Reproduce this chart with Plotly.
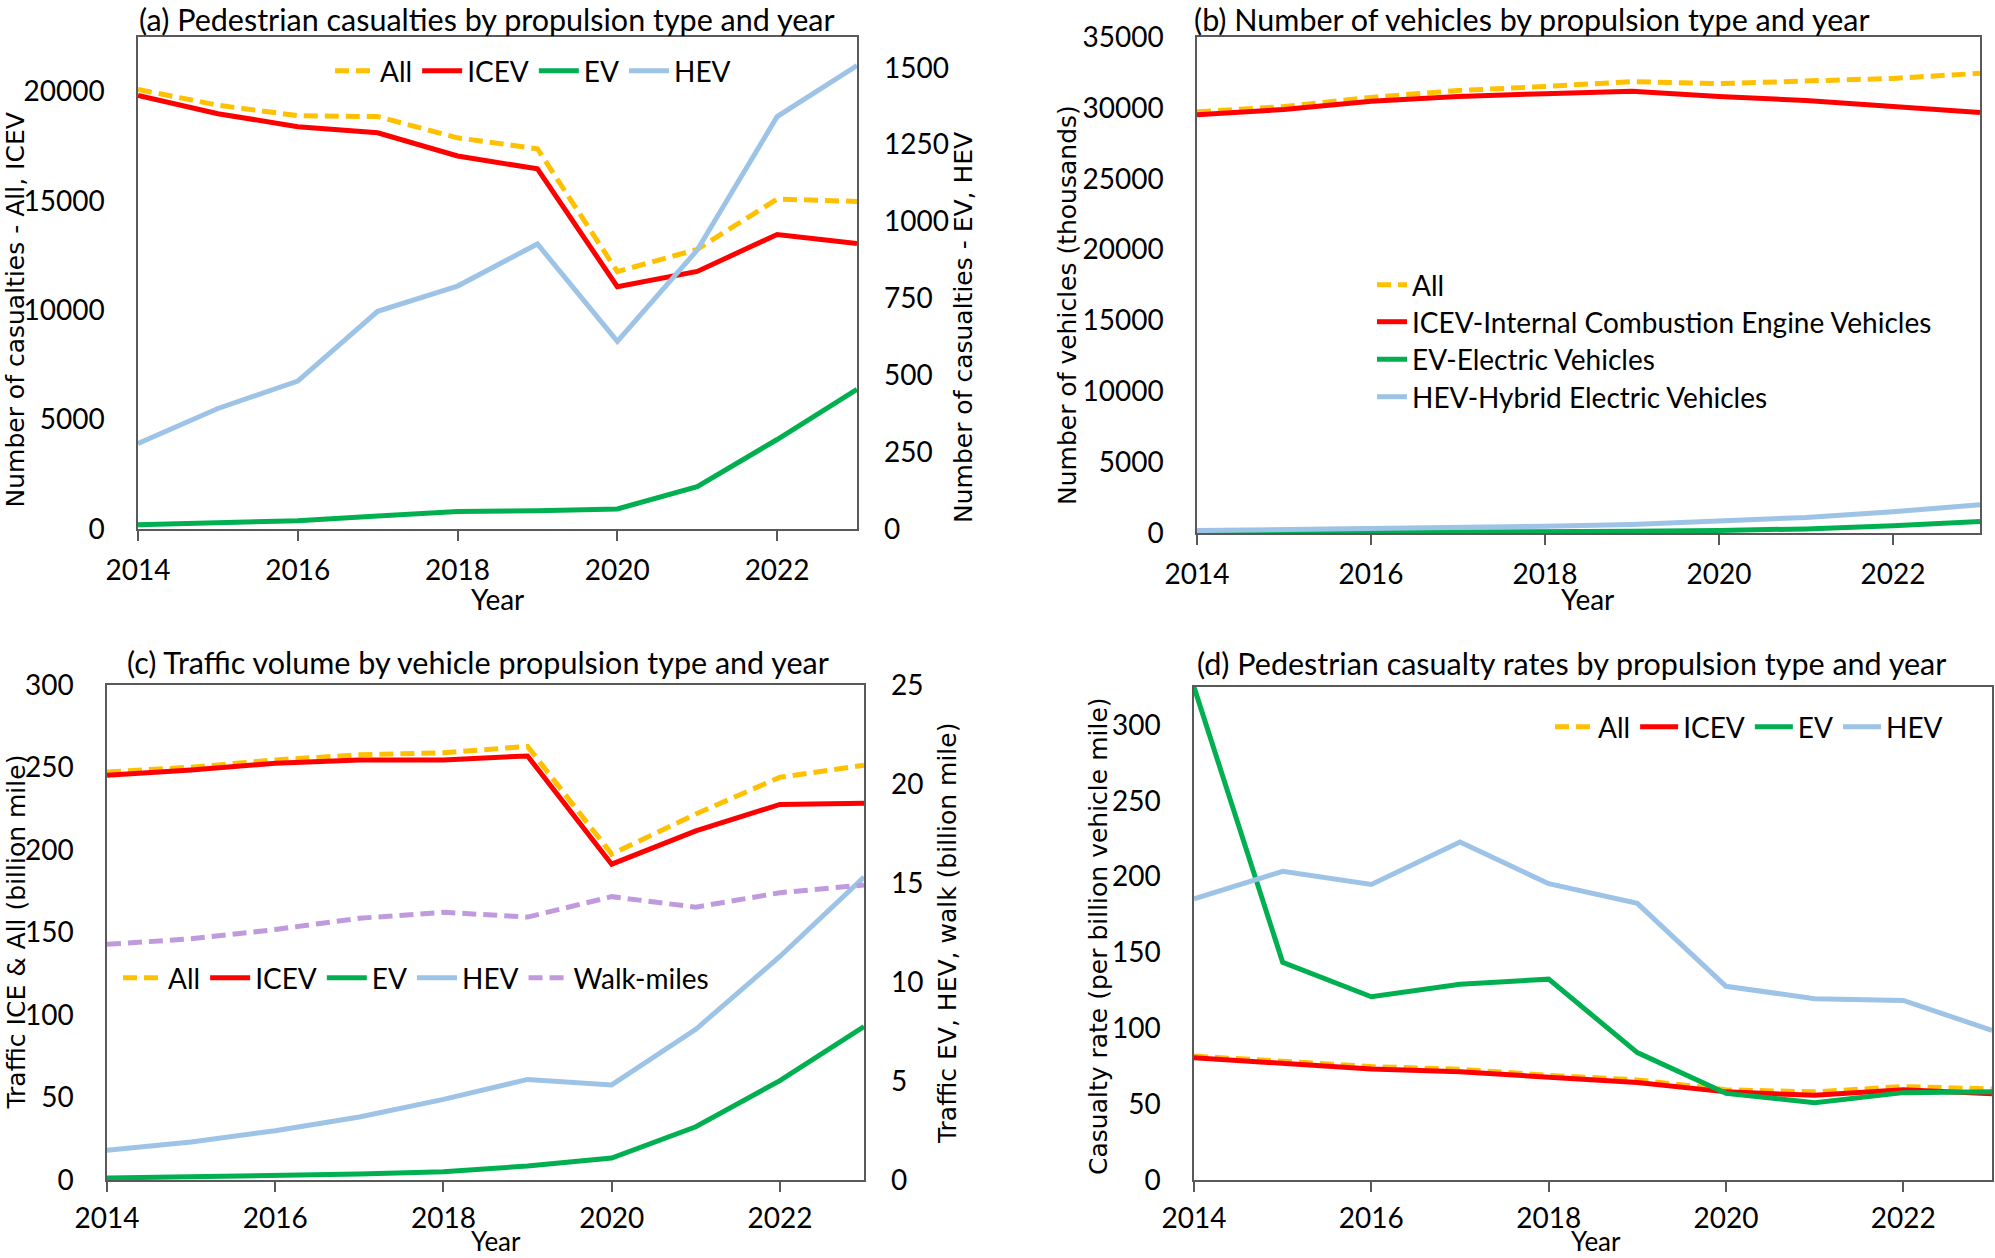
import plotly.graph_objects as go

# ---------------- data ----------------
years = [2014, 2015, 2016, 2017, 2018, 2019, 2020, 2021, 2022, 2023]

# (a) pedestrian casualties
cas_all = [20100, 19380, 18900, 18860, 17890, 17390, 11770, 12790, 15090, 14980]
cas_icev = [19830, 18990, 18400, 18120, 17060, 16470, 11080, 11780, 13470, 13050]
cas_ev = [14, 20, 27, 42, 57, 59, 65, 138, 291, 454]
cas_hev = [278, 392, 481, 708, 790, 927, 610, 907, 1341, 1507]

# (b) number of vehicles (thousands)
veh_all = [29720, 30090, 30740, 31220, 31510, 31850, 31710, 31930, 32080, 32440]
veh_icev = [29520, 29890, 30460, 30800, 31000, 31170, 30800, 30520, 30090, 29665]
veh_ev = [20, 30, 50, 70, 90, 120, 180, 290, 510, 820]
veh_hev = [170, 230, 310, 400, 480, 600, 820, 1100, 1500, 1990]

# (c) traffic volume (billion mile)
trf_all = [247.3, 250.2, 254.6, 257.7, 258.9, 262.8, 197.5, 221.8, 244.1, 251.4]
trf_icev = [245.3, 248.5, 252.6, 254.6, 254.6, 257.0, 191.4, 211.6, 227.6, 228.3]
trf_ev = [0.1, 0.15, 0.2, 0.3, 0.42, 0.71, 1.11, 2.69, 5.02, 7.75]
trf_hev = [1.5, 1.92, 2.49, 3.18, 4.07, 5.08, 4.80, 7.61, 11.29, 15.3]
trf_walk = [11.9, 12.18, 12.65, 13.22, 13.52, 13.28, 14.31, 13.78, 14.51, 14.9]

# (d) casualty rates (per billion vehicle mile)
rate_all = [81.7, 78.0, 74.8, 73.0, 69.0, 66.0, 59.5, 58.1, 61.6, 60.0]
rate_icev = [80.6, 76.6, 73.2, 71.4, 67.4, 64.2, 58.1, 55.8, 59.5, 56.8]
rate_ev = [325, 143.5, 120.8, 129, 132.4, 84, 57.1, 51, 57.6, 58.1]
rate_hev = [185.3, 203.5, 194.8, 222.8, 195.3, 182.4, 127.7, 119.5, 118.4, 98.6]

# ---------------- styles ----------------
W, H = 1995, 1258
C_ALL, C_ICEV, C_EV, C_HEV, C_WALK = "#FFC000", "#FF0000", "#00B050", "#9DC3E6", "#BF9BDE"
LW = 5
DASH = "14px,7px"
TICKFONT = dict(family="Lato", size=28, color="black")
TITLEFONT = dict(family="Lato", size=30.5, color="black")
AXTFONT = dict(family="DejaVu Sans", size=25, color="black")
LEGFONT = dict(family="Lato", size=28, color="black")
YEARFONT_BOTTOM = dict(family="Lato", size=26, color="black")
AXCOL = "#595959"


def px(x):
    return x / W


def py(y):
    return 1 - y / H


fig = go.Figure()


def add(x, y, name, color, xa, ya, legend, dash=None):
    fig.add_trace(go.Scatter(
        x=x, y=y, name=name, mode="lines", xaxis=xa, yaxis=ya, legend=legend,
        line=dict(color=color, width=LW, dash=dash)))


# (a)
add(years, cas_all, "All", C_ALL, "x", "y", "legend", DASH)
add(years, cas_icev, "ICEV", C_ICEV, "x", "y", "legend")
add(years, cas_ev, "EV", C_EV, "x", "y2", "legend")
add(years, cas_hev, "HEV", C_HEV, "x", "y2", "legend")
# (b)  one legend box per row so the row spacing follows the reference
add(years, veh_all, "All", C_ALL, "x2", "y3", "legend2", DASH)
add(years, veh_icev, "ICEV-Internal Combustion Engine Vehicles", C_ICEV, "x2", "y3", "legend5")
add(years, veh_ev, "EV-Electric Vehicles", C_EV, "x2", "y3", "legend6")
add(years, veh_hev, "HEV-Hybrid Electric Vehicles", C_HEV, "x2", "y3", "legend7")
# (c)
add(years, trf_all, "All", C_ALL, "x3", "y4", "legend3", DASH)
add(years, trf_icev, "ICEV", C_ICEV, "x3", "y4", "legend3")
add(years, trf_ev, "EV", C_EV, "x3", "y5", "legend3")
add(years, trf_hev, "HEV", C_HEV, "x3", "y5", "legend3")
add(years, trf_walk, "Walk-miles", C_WALK, "x3", "y5", "legend3", DASH)
# (d)
add(years, rate_all, "All", C_ALL, "x4", "y6", "legend4", DASH)
add(years, rate_icev, "ICEV", C_ICEV, "x4", "y6", "legend4")
add(years, rate_ev, "EV", C_EV, "x4", "y6", "legend4")
add(years, rate_hev, "HEV", C_HEV, "x4", "y6", "legend4")


def xaxis(dom, anchor, standoff=6):
    return dict(domain=dom, anchor=anchor, range=[2014, 2023], tick0=2014, dtick=2,
                tickformat="d", ticks="outside", ticklen=10, tickwidth=1.5, tickcolor=AXCOL,
                ticklabelstandoff=standoff, automargin=False,
                showline=True, linecolor=AXCOL, linewidth=1.5, mirror=True,
                showgrid=False, zeroline=False, tickfont=TICKFONT, fixedrange=True)


def yaxis(dom, anchor, rng, dtick, side="left", overlay=None):
    d = dict(range=rng, dtick=dtick, tick0=0, side=side, anchor=anchor, tickformat="d",
             showgrid=False, zeroline=False, ticks="", tickfont=TICKFONT,
             ticklabelstandoff=26, automargin=False, fixedrange=True)
    if overlay:
        d.update(overlaying=overlay, showline=False)
    else:
        d.update(domain=dom, showline=True, linecolor=AXCOL, linewidth=1.5, mirror=True)
    return d


dom_a_x = [px(138), px(857)]
dom_a_y = [py(529), py(37)]
dom_b_x = [px(1197), px(1980)]
dom_b_y = [py(533), py(37)]
dom_c_x = [px(107), px(864)]
dom_c_y = [py(1180), py(685)]
dom_d_x = [px(1194), px(1992)]
dom_d_y = [py(1180), py(687)]

leg_common = dict(font=LEGFONT, bgcolor="rgba(0,0,0,0)",
                  xanchor="left", itemclick=False, itemdoubleclick=False)

fig.update_layout(
    width=W, height=H, margin=dict(l=0, r=0, t=0, b=0, autoexpand=False),
    paper_bgcolor="white", plot_bgcolor="white",
    xaxis=xaxis(dom_a_x, "y"),
    yaxis=yaxis(dom_a_y, "x", [0, 22500], 5000),
    yaxis2=yaxis(None, "x", [0, 1600], 250, side="right", overlay="y"),
    xaxis2=xaxis(dom_b_x, "y3"),
    yaxis3=yaxis(dom_b_y, "x2", [0, 35000], 5000),
    xaxis3=xaxis(dom_c_x, "y4", standoff=3),
    yaxis4=yaxis(dom_c_y, "x3", [0, 300], 50),
    yaxis5=yaxis(None, "x3", [0, 25], 5, side="right", overlay="y4"),
    xaxis4=xaxis(dom_d_x, "y6", standoff=3),
    yaxis6=yaxis(dom_d_y, "x4", [0, 325], 50),
    legend=dict(orientation="h", x=px(330), y=py(71), yanchor="middle", itemwidth=40, **leg_common),
    legend2=dict(orientation="v", x=px(1372), y=py(285), yanchor="middle", **leg_common),
    legend5=dict(orientation="v", x=px(1372), y=py(322), yanchor="middle", **leg_common),
    legend6=dict(orientation="v", x=px(1372), y=py(359.5), yanchor="middle", **leg_common),
    legend7=dict(orientation="v", x=px(1372), y=py(397), yanchor="middle", **leg_common),
    legend3=dict(orientation="h", x=px(118), y=py(978), yanchor="middle", itemwidth=40, **leg_common),
    legend4=dict(orientation="h", x=px(1550), y=py(727), yanchor="middle", itemwidth=38, **leg_common),
)


def ann(text, x, y, font, angle=0, xanchor="center", yanchor="middle"):
    fig.add_annotation(text=text, x=px(x), y=py(y), xref="paper", yref="paper",
                       showarrow=False, xanchor=xanchor, yanchor=yanchor, borderpad=0,
                       textangle=angle, font=font)


# panel titles
ann("(a) Pedestrian casualties by propulsion type and year", 487, 0, TITLEFONT, yanchor="top")
ann("(b) Number of vehicles by propulsion type and year", 1532, 0, TITLEFONT, yanchor="top")
ann("(c) Traffic volume by vehicle propulsion type and year", 478, 662, TITLEFONT)
ann("(d) Pedestrian casualty rates by propulsion type and year", 1571, 663, TITLEFONT)
# axis titles
ann("Number of casualties - All, ICEV", 0, 310, AXTFONT, -90, xanchor="left")
ann("Number of casualties - EV, HEV", 963, 328, AXTFONT, -90)
ann("Number of vehicles (thousands)", 1067, 305, AXTFONT, -90)
ann("Traffic ICE &amp; All (billion mile)", 0, 932, AXTFONT, -90, xanchor="left")
ann("Traffic EV, HEV, walk (billion mile)", 947, 934, AXTFONT, -90)
ann("Casualty rate (per billion vehicle mile)", 1098, 936, AXTFONT, -90)
ann("Year", 497, 599, TICKFONT)
ann("Year", 1587, 599, TICKFONT)
ann("Year", 496, H, YEARFONT_BOTTOM, yanchor="bottom")
ann("Year", 1596, H, YEARFONT_BOTTOM, yanchor="bottom")

fig.write_html("out.html", config={"displayModeBar": False},
               post_script="document.body.style.margin='0px';")
